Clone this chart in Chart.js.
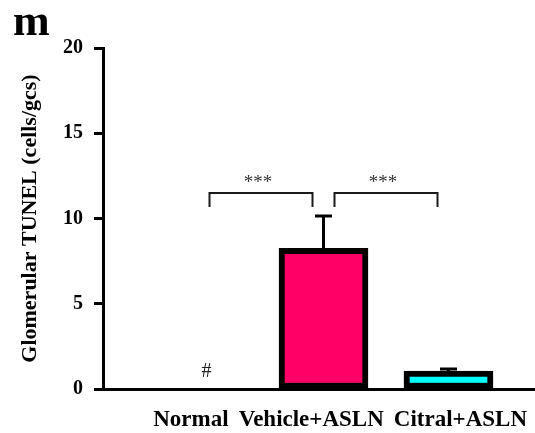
<!DOCTYPE html>
<html>
<head>
<meta charset="utf-8">
<script src="https://cdn.jsdelivr.net/npm/chart.js@4.4.1/dist/chart.umd.min.js"></script>
<style>
  html, body { margin: 0; padding: 0; background: #ffffff; }
  #wrap { width: 535px; height: 433px; }
</style>
</head>
<body>
<div id="wrap"><canvas id="tunelChart" width="535" height="433"></canvas></div>
<script>
// ======================================================
// GLOMERULAR TUNEL - DATA
// ======================================================
const categories = ["Normal", "Vehicle+ASLN", "Citral+ASLN"];
const means = [0, 8.25, 1.05];
const sem = [0, 1.9, 0.12];
const barColors = ["#ffffff", "#ff0066", "#00ffff"];
const yTicks = [0, 5, 10, 15, 20];
const comparisonPairs = [[0, 1], [1, 2]];
const comparisonMarks = ["***", "***"];
const hashMarks = ["#", "", ""];

const SERIF = "'Liberation Serif', 'Times New Roman', serif";


// ======================================================
// PLUGIN: error bars, brackets, labels
// ======================================================
const extrasPlugin = {
    id: "extras",

    afterDatasetsDraw(chart) {
        const ctx = chart.ctx;
        const x = chart.scales.x;
        const y = chart.scales.y;

        ctx.save();

        // error bars (upper only)
        ctx.strokeStyle = "#000000";
        ctx.lineWidth = 3;
        means.forEach((m, i) => {
            if (!sem[i]) return;
            const cx = x.getPixelForValue(i);
            const top = y.getPixelForValue(m + sem[i]);
            ctx.beginPath();
            ctx.moveTo(cx, y.getPixelForValue(m) + 2);
            ctx.lineTo(cx, top);
            ctx.moveTo(cx - 8.5, top);
            ctx.lineTo(cx + 8.5, top);
            ctx.stroke();
        });

        // significance brackets
        ctx.lineWidth = 2;
        ctx.strokeStyle = "#1a1a1a";
        const by = y.getPixelForValue(11.5);
        comparisonPairs.forEach(([a, b], k) => {
            const x1 = x.getPixelForValue(a) + 11;
            const x2 = x.getPixelForValue(b) - 11;
            ctx.beginPath();
            ctx.moveTo(x1, by + 14);
            ctx.lineTo(x1, by);
            ctx.lineTo(x2, by);
            ctx.lineTo(x2, by + 14);
            ctx.stroke();

            ctx.fillStyle = "#333333";
            ctx.font = "19px " + SERIF;
            ctx.textAlign = "center";
            ctx.textBaseline = "middle";
            ctx.fillText(comparisonMarks[k], (x1 + x2) / 2 - 3, by - 10);
        });

        // "#" marks
        ctx.fillStyle = "#222222";
        ctx.font = "20px " + SERIF;
        ctx.textAlign = "center";
        ctx.textBaseline = "middle";
        hashMarks.forEach((h, i) => {
            if (!h) return;
            ctx.fillText(h, x.getPixelForValue(i) + 8, y.getPixelForValue(means[i]) - 17);
        });

        // category labels, one row ending near the right edge
        ctx.fillStyle = "#000000";
        ctx.font = "bold 23px " + SERIF;
        ctx.textAlign = "left";
        ctx.textBaseline = "alphabetic";
        const gap = 10;
        const widths = categories.map(c => ctx.measureText(c).width);
        let lx = chart.width - 8 - widths.reduce((s, w) => s + w, 0) - gap * (categories.length - 1);
        categories.forEach((c, i) => {
            ctx.fillText(c, lx, 426);
            lx += widths[i] + gap;
        });

        // panel letter
        ctx.font = "bold 44px " + SERIF;
        ctx.fillText("m", 13, 35);

        ctx.restore();
    }
};


// ======================================================
// BAR CHART
// ======================================================
const ctx = document.getElementById("tunelChart");

new Chart(ctx, {

    type: "bar",

    data: {
        datasets: [{
            data: means.map((v, i) => ({ x: i, y: v })),
            backgroundColor: barColors,
            borderColor: "#000000",
            borderWidth: 6,
            borderSkipped: false,
            barThickness: 89
        }]
    },

    plugins: [extrasPlugin],

    options: {

        responsive: false,
        animation: false,

        layout: {
            padding: { top: 48, right: 0, bottom: 0, left: 0 }
        },

        plugins: {
            legend: { display: false },
            tooltip: { enabled: false }
        },

        scales: {

            x: {
                type: "linear",
                offset: false,
                min: -0.764,
                max: 2.692,
                ticks: { display: false },
                grid: { display: false, offset: false },
                border: { display: true, color: "#000000", width: 3 },
                afterFit(scale) { scale.height = 44; }
            },

            y: {
                min: 0,
                max: 20,
                afterBuildTicks(scale) {
                    scale.ticks = yTicks.map(v => ({ value: v }));
                },
                ticks: {
                    color: "#000000",
                    padding: 11,
                    font: { family: SERIF, size: 20, weight: "bold" }
                },
                grid: {
                    drawOnChartArea: false,
                    drawTicks: true,
                    tickLength: 9,
                    tickWidth: 3,
                    tickColor: "#000000"
                },
                border: { display: true, color: "#000000", width: 3 },
                title: {
                    display: true,
                    text: "Glomerular TUNEL (cells/gcs)",
                    color: "#000000",
                    padding: { top: 17, bottom: 0 },
                    font: { family: SERIF, size: 22, weight: "bold" }
                },
                afterFit(scale) { scale.width = 103; }
            }
        }
    }
});
</script>
</body>
</html>
